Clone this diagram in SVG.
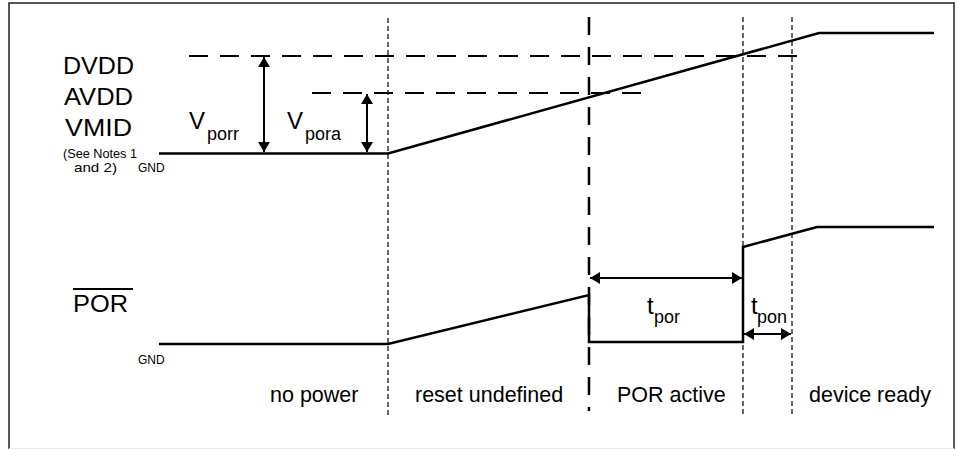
<svg xmlns="http://www.w3.org/2000/svg" width="958" height="449" viewBox="0 0 958 449">
<style>
text{font-family:"Liberation Sans",Arial,sans-serif;fill:#000}
.big{font-size:21.5px}
.sup{font-size:23px}
.v{font-size:24px}
.sub{font-size:18px}
.sm{font-size:13px}
.gnd{font-size:12px}
.sig{fill:none;stroke:#000;stroke-width:2.5;stroke-linejoin:miter}
.thr{fill:none;stroke:#000;stroke-width:2;stroke-dasharray:19 12}
.dot{fill:none;stroke:#000;stroke-width:1.2;stroke-dasharray:5 3}
.long{fill:none;stroke:#000;stroke-width:2.5;stroke-dasharray:18 12}
.arr{fill:none;stroke:#000;stroke-width:2;marker-start:url(#ah);marker-end:url(#ah)}
</style>
<defs>
<marker id="ah" viewBox="0 0 10 12" refX="10" refY="6" markerWidth="10" markerHeight="12" markerUnits="userSpaceOnUse" orient="auto-start-reverse">
<path d="M0,0 L10,6 L0,12 Z" fill="#000"/>
</marker>
</defs>
<rect width="958" height="449" fill="#fff"/>
<g id="frame">
<path d="M9,449 V3 H954 V449" fill="none" stroke="#222" stroke-width="1.5"/>
<line x1="9" y1="448.5" x2="954" y2="448.5" stroke="#e8e8e8" stroke-width="1"/>
</g>
<g id="thresholds">
<line class="thr" x1="189" y1="56" x2="803" y2="56"/>
<line class="thr" x1="312" y1="93" x2="644" y2="93"/>
</g>
<g id="phase-lines">
<line class="dot" x1="388" y1="18" x2="388" y2="417"/>
<line class="long" x1="589" y1="17" x2="589" y2="411"/>
<line class="dot" x1="743" y1="17" x2="743" y2="415"/>
<line class="dot" x1="792" y1="17" x2="792" y2="415"/>
</g>
<g id="supply-signal">
<path class="sig" d="M159,153.5 H388 L819,33 H934"/>
</g>
<g id="por-signal">
<path class="sig" d="M159,344 H388 L589,295 V342 H743 V247 L817,227 H934"/>
</g>
<g id="connectors">
<line class="arr" x1="264" y1="57" x2="264" y2="152"/>
<line class="arr" x1="367" y1="94" x2="367" y2="152"/>
<line class="arr" x1="590" y1="278" x2="742" y2="278"/>
<line class="arr" x1="744" y1="334" x2="791" y2="334"/>
</g>
<g id="supply-labels">
<text class="sup" x="63" y="74" textLength="71" lengthAdjust="spacingAndGlyphs">DVDD</text>
<text class="sup" x="64" y="105" textLength="69" lengthAdjust="spacingAndGlyphs">AVDD</text>
<text class="sup" x="65" y="136" textLength="67" lengthAdjust="spacingAndGlyphs">VMID</text>
<text class="sm" x="63" y="158" textLength="74" lengthAdjust="spacingAndGlyphs">(See Notes 1</text>
<text class="sm" x="74" y="172" textLength="43" lengthAdjust="spacingAndGlyphs">and 2)</text>
<text class="gnd" x="138" y="172">GND</text>
</g>
<g id="vporr-label">
<text class="v" x="189" y="129">V</text>
<text class="sub" x="207" y="140">porr</text>
</g>
<g id="vpora-label">
<text class="v" x="287" y="129">V</text>
<text class="sub" x="305" y="140">pora</text>
</g>
<g id="por-label">
<text class="v" x="73" y="312" textLength="55" lengthAdjust="spacingAndGlyphs">POR</text>
<line x1="73" y1="289" x2="133" y2="289" stroke="#000" stroke-width="2"/>
<text class="gnd" x="138" y="364">GND</text>
</g>
<g id="tpor-label">
<text class="v" x="647" y="314">t</text>
<text class="sub" x="654" y="323">por</text>
</g>
<g id="tpon-label">
<text class="v" x="751" y="314">t</text>
<text class="sub" x="757" y="323">pon</text>
</g>
<g id="phase-labels">
<text class="big" x="270" y="402">no power</text>
<text class="big" x="415" y="402">reset undefined</text>
<text class="big" x="617" y="402">POR active</text>
<text class="big" x="809" y="402">device ready</text>
</g>
</svg>
